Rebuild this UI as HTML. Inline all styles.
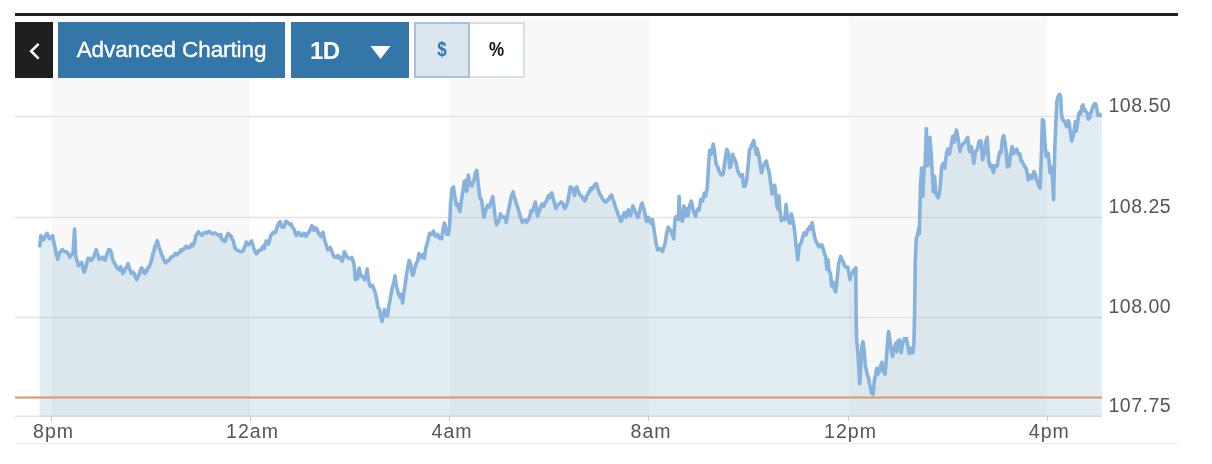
<!DOCTYPE html>
<html><head><meta charset="utf-8"><title>Chart</title>
<style>
html,body{margin:0;padding:0;background:#fff;}
body{width:1212px;height:464px;position:relative;overflow:hidden;font-family:"Liberation Sans",sans-serif;}
#chart{position:absolute;left:0;top:0;}
.topline{position:absolute;left:15px;top:13px;width:1163px;height:3px;background:#1e222b;}
.btn{position:absolute;top:22px;height:55.5px;box-sizing:border-box;}
.gap{position:absolute;top:22px;height:56px;background:#fff;}
.back{left:15px;width:38px;background:#1f1f1f;}
.adv{left:58px;width:227px;background:#3576a8;color:#fff;font-size:22.5px;line-height:56px;text-align:center;letter-spacing:-0.1px;-webkit-text-stroke:0.35px #fff;}
.oned{left:291px;width:118px;background:#3576a8;color:#fff;font-size:24px;font-weight:bold;line-height:57px;}
.oned span{position:absolute;left:19px;top:0;letter-spacing:-0.5px}
.dol{left:414px;width:56px;background:#dae5ef;border:2px solid #a9c1db;color:#3576a8;font-weight:bold;font-size:17px;line-height:52.4px;text-align:center;}
.btn b{display:inline-block;transform:scaleY(1.2);}
.pct{left:470px;width:55px;background:#fff;border:2px solid #d5e0ec;border-left:none;color:#111;font-weight:bold;font-size:17px;line-height:52.4px;text-align:center;}
#chart{font-family:"Liberation Sans",sans-serif;font-size:19px;}
#chart text{fill:#555;}
</style></head><body>
<svg id="chart" width="1212" height="464" viewBox="0 0 1212 464">
<rect x="52" y="17" width="198" height="399" fill="#f8f8f8"/>
<rect x="450" y="17" width="199" height="399" fill="#f8f8f8"/>
<rect x="849" y="17" width="198" height="399" fill="#f8f8f8"/>
<g stroke="#e3e3e3" stroke-width="1.5">
<line x1="15" x2="1102" y1="116.4" y2="116.4"/>
<line x1="15" x2="1102" y1="217.5" y2="217.5"/>
<line x1="15" x2="1102" y1="317.4" y2="317.4"/>
</g>
<line x1="15" x2="1102" y1="416.2" y2="416.2" stroke="#d6d6d6" stroke-width="1"/>
<line x1="15" x2="1178" y1="443.5" y2="443.5" stroke="#eeeeee" stroke-width="1"/>
<g stroke="#c8c8c8" stroke-width="1">
<line x1="51.5" x2="51.5" y1="416" y2="421"/>
<line x1="250.5" x2="250.5" y1="416" y2="421"/>
<line x1="449.5" x2="449.5" y1="416" y2="421"/>
<line x1="648.5" x2="648.5" y1="416" y2="421"/>
<line x1="848.5" x2="848.5" y1="416" y2="421"/>
<line x1="1047.5" x2="1047.5" y1="416" y2="421"/>
</g>
<path d="M39.7 247.4 L40.8 235.6 L41.7 236.8 L42.5 238.9 L43.4 239.9 L44.4 238.1 L45.3 236.4 L46.2 234.3 L47.2 233.4 L48.3 235.9 L49.4 238.8 L50.5 238.6 L51.5 237.0 L52.6 235.6 L53.7 241.7 L54.8 246.3 L55.7 250.8 L56.7 255.3 L57.6 259.3 L58.5 256.9 L59.3 253.0 L60.2 251.7 L61.2 251.3 L62.3 249.6 L63.4 250.7 L64.5 251.4 L65.6 251.7 L66.7 251.8 L67.8 253.1 L68.8 255.1 L69.9 257.1 L71.0 255.3 L72.0 254.5 L73.1 252.8 L73.8 240.9 L74.6 229.1 L75.7 256.0 L76.6 259.6 L77.6 262.0 L78.5 265.7 L79.6 264.9 L80.6 263.9 L81.7 262.5 L82.6 265.2 L83.4 270.3 L84.3 272.2 L85.3 269.1 L86.2 266.1 L87.2 261.2 L88.2 258.2 L89.3 258.3 L90.3 259.3 L91.4 260.3 L92.5 258.6 L93.6 257.1 L94.5 255.1 L95.3 252.3 L96.2 249.6 L97.1 252.5 L98.1 255.3 L99.0 259.3 L100.1 258.2 L101.1 258.7 L102.2 257.1 L103.1 257.6 L104.1 259.4 L105.0 260.3 L105.9 257.9 L106.8 253.8 L107.8 252.3 L108.7 249.6 L109.5 250.8 L110.2 250.0 L111.1 251.9 L112.1 256.6 L113.0 260.3 L114.1 262.4 L115.1 264.0 L116.2 266.8 L117.3 268.2 L118.3 268.9 L119.4 270.0 L120.5 266.8 L121.6 269.0 L122.7 273.3 L123.8 272.1 L124.8 270.2 L125.9 267.9 L127.0 266.5 L128.1 263.6 L129.2 267.9 L130.2 270.3 L131.3 273.3 L132.4 272.8 L133.4 272.2 L134.5 273.7 L135.6 277.7 L136.7 279.7 L137.8 277.1 L138.8 275.4 L139.7 272.6 L140.7 269.5 L141.6 267.9 L142.5 269.0 L143.3 271.1 L144.2 273.3 L145.1 273.5 L145.9 270.3 L146.8 271.1 L147.8 267.9 L148.8 267.0 L149.7 265.7 L150.7 262.5 L151.8 259.3 L152.8 253.9 L153.9 251.7 L155.0 246.1 L156.1 244.5 L157.2 240.5 L158.2 243.9 L159.3 248.5 L160.4 250.2 L161.4 254.2 L162.5 256.0 L163.4 259.1 L164.4 260.7 L165.3 262.9 L166.2 262.2 L167.0 261.5 L167.9 260.3 L169.0 260.4 L170.1 258.6 L171.2 257.1 L172.3 256.8 L173.3 256.1 L174.4 255.0 L175.5 253.3 L176.6 254.9 L177.6 254.1 L178.7 252.8 L179.8 252.5 L180.8 249.9 L181.9 250.6 L183.0 249.1 L184.1 249.1 L185.2 247.4 L186.3 246.2 L187.3 247.5 L188.4 247.8 L189.5 247.5 L190.6 245.7 L191.7 244.2 L192.7 245.9 L193.8 244.2 L194.9 240.3 L195.9 235.6 L196.8 234.3 L197.6 233.4 L198.5 231.9 L199.4 233.4 L200.4 234.0 L201.3 234.9 L202.4 235.1 L203.5 233.0 L204.6 232.8 L205.7 232.3 L206.8 233.2 L207.8 232.3 L208.9 231.4 L210.0 231.9 L211.1 233.1 L212.1 234.0 L213.2 233.4 L214.3 233.3 L215.3 232.9 L216.4 234.1 L217.5 234.5 L218.6 235.1 L219.6 235.7 L220.7 236.6 L220.7 234.5 L221.4 238.3 L222.2 239.9 L223.3 239.5 L224.3 241.5 L225.4 240.9 L226.3 237.4 L227.3 235.3 L228.2 233.4 L229.1 234.6 L229.9 235.7 L230.8 235.6 L231.7 238.0 L232.5 239.4 L233.4 240.9 L234.2 244.8 L235.1 248.5 L236.2 249.3 L237.2 250.3 L238.3 250.6 L239.4 251.0 L240.5 251.7 L241.4 251.5 L242.4 251.4 L243.3 250.6 L244.3 247.7 L245.3 245.4 L246.3 242.0 L247.2 243.2 L248.2 245.0 L249.1 244.2 L250.0 243.3 L250.8 241.7 L251.7 240.9 L252.9 245.0 L254.1 249.6 L255.1 251.7 L256.2 253.9 L257.1 253.5 L257.9 251.4 L258.8 250.6 L259.9 250.0 L260.9 250.1 L262.0 247.8 L263.1 246.2 L264.2 248.5 L265.2 243.9 L266.3 240.9 L267.4 242.7 L268.5 244.2 L269.6 240.2 L270.6 235.6 L271.5 234.7 L272.5 233.1 L273.4 232.3 L274.5 232.8 L275.6 232.3 L276.7 228.8 L277.8 224.8 L279.1 222.8 L280.3 221.6 L281.1 226.1 L281.9 226.9 L283.0 227.2 L284.2 226.9 L285.0 223.6 L285.9 221.1 L286.9 221.9 L288.0 222.7 L289.0 223.7 L290.1 224.7 L291.1 223.8 L292.2 226.9 L293.3 228.2 L294.4 230.2 L295.4 233.7 L296.5 235.6 L297.6 233.1 L298.7 232.3 L299.6 233.3 L300.6 235.2 L301.5 235.6 L302.6 235.1 L303.6 233.4 L304.5 235.5 L305.3 234.0 L306.2 236.2 L307.1 234.6 L307.9 233.3 L308.8 232.3 L309.7 230.6 L310.7 228.9 L311.6 225.9 L312.7 226.0 L313.8 230.2 L314.9 229.9 L315.9 228.0 L317.0 229.1 L318.1 232.3 L319.0 234.2 L320.0 234.0 L320.9 236.6 L321.9 234.6 L323.0 232.3 L324.1 238.0 L325.2 242.0 L326.1 244.6 L326.9 247.5 L327.8 250.0 L329.1 249.3 L330.3 247.4 L331.2 250.0 L332.2 252.4 L333.1 255.0 L334.2 257.2 L335.3 257.1 L336.2 257.4 L337.2 255.9 L338.1 255.6 L339.2 258.4 L340.3 257.1 L341.2 258.4 L342.2 261.4 L343.3 257.2 L344.4 251.7 L345.5 253.9 L346.7 256.5 L347.6 257.2 L348.4 258.2 L349.3 258.2 L350.0 258.4 L350.9 258.1 L351.9 257.5 L352.9 260.9 L353.9 263.3 L354.6 270.4 L355.4 279.8 L356.4 278.2 L357.4 278.8 L358.2 273.9 L359.1 268.1 L359.9 271.3 L360.7 275.9 L361.6 275.6 L362.6 276.9 L363.6 277.2 L364.6 279.8 L365.9 275.4 L367.1 269.1 L368.0 276.0 L368.8 281.7 L369.8 285.3 L370.8 286.6 L371.8 285.4 L372.7 285.6 L373.8 288.5 L374.8 291.4 L375.8 294.9 L376.8 300.2 L378.1 307.9 L379.5 308.9 L380.7 316.7 L382.0 321.5 L383.4 314.7 L384.5 309.5 L385.9 314.7 L387.3 316.1 L388.1 311.6 L388.8 306.0 L389.8 301.8 L390.8 295.3 L392.0 289.3 L393.1 284.6 L394.1 281.4 L395.0 275.9 L395.8 282.0 L396.6 286.6 L397.6 290.3 L398.5 294.3 L399.3 294.3 L400.1 297.2 L401.4 294.3 L402.6 303.1 L403.9 292.4 L405.1 285.2 L406.3 275.9 L407.3 270.7 L408.2 265.1 L409.2 260.4 L409.9 262.6 L410.7 264.3 L411.7 270.1 L412.7 275.3 L413.9 272.4 L415.0 267.2 L416.2 263.5 L417.5 261.3 L418.9 253.6 L419.9 256.4 L420.8 257.5 L421.8 257.2 L422.8 254.6 L423.6 257.6 L424.3 258.4 L425.7 248.7 L426.6 245.2 L427.6 241.9 L428.6 237.0 L429.7 233.3 L430.8 234.6 L431.9 234.4 L432.6 232.8 L433.4 231.1 L434.4 233.9 L435.5 236.5 L436.6 236.5 L437.7 234.4 L438.8 236.4 L439.8 238.7 L440.7 237.0 L441.6 238.7 L442.4 233.6 L443.1 229.0 L444.4 223.1 L445.4 226.8 L446.3 233.3 L447.4 234.5 L448.4 234.4 L449.7 224.7 L450.6 203.1 L451.9 189.1 L452.6 188.2 L453.4 186.9 L454.1 191.3 L454.9 196.6 L456.2 205.3 L456.9 204.7 L457.7 204.2 L458.8 208.6 L459.9 211.7 L460.9 204.2 L462.0 196.6 L463.1 190.1 L464.2 181.6 L464.9 181.0 L465.7 180.5 L466.8 191.2 L467.6 183.9 L468.3 175.1 L469.1 180.0 L470.0 182.6 L470.9 185.5 L471.7 185.9 L472.8 182.7 L473.9 180.5 L474.6 177.4 L475.4 172.9 L476.7 170.3 L477.4 175.6 L478.2 183.7 L479.0 189.9 L479.9 197.7 L480.9 198.4 L481.9 202.0 L482.9 210.4 L484.0 217.1 L484.9 212.9 L485.7 210.6 L486.6 207.9 L487.5 205.3 L488.2 206.2 L489.0 207.4 L489.9 205.2 L490.7 203.1 L491.8 199.4 L492.8 196.6 L493.6 203.8 L494.4 210.6 L495.4 219.0 L496.5 224.7 L497.6 223.1 L498.7 221.4 L499.5 218.0 L500.4 213.9 L501.4 216.3 L502.3 217.1 L503.4 217.0 L504.5 217.1 L505.4 218.9 L506.2 222.5 L507.3 216.1 L508.4 210.6 L509.4 206.1 L510.5 199.9 L511.4 196.0 L512.2 194.1 L513.1 191.9 L514.2 196.7 L515.3 199.9 L516.3 203.7 L517.4 206.3 L518.5 210.1 L519.6 213.9 L520.5 217.4 L521.5 219.8 L522.4 222.5 L523.5 220.5 L524.5 220.3 L525.6 220.0 L526.7 222.1 L527.8 220.2 L528.8 219.3 L529.9 215.6 L531.0 210.6 L531.9 210.7 L532.7 211.7 L533.6 207.8 L534.4 204.7 L535.3 202.0 L536.4 207.9 L537.5 216.0 L538.5 213.2 L539.6 210.6 L540.7 206.5 L541.8 204.2 L542.8 205.5 L543.9 206.3 L545.0 202.4 L546.1 202.0 L547.0 200.1 L547.8 197.3 L548.7 195.6 L550.0 197.7 L551.0 193.8 L551.9 192.8 L552.8 196.9 L553.6 199.9 L554.7 204.0 L555.8 208.5 L556.9 205.4 L557.9 205.0 L559.0 204.2 L560.1 203.3 L561.2 202.0 L562.2 202.8 L563.3 204.2 L564.0 206.9 L564.8 208.5 L565.7 206.9 L566.7 204.7 L567.6 202.0 L568.5 197.2 L569.3 192.9 L570.2 186.9 L571.3 187.9 L572.4 188.0 L573.5 192.1 L574.5 195.6 L575.6 189.7 L576.7 186.9 L577.8 190.3 L578.8 192.3 L579.9 194.9 L581.0 195.6 L581.9 196.8 L582.9 198.1 L583.8 199.9 L584.8 200.8 L585.9 198.8 L586.8 195.3 L587.6 194.8 L588.5 192.3 L589.6 192.0 L590.7 188.0 L591.5 187.9 L592.4 189.1 L593.5 187.5 L594.6 184.8 L595.5 185.7 L596.3 183.7 L597.3 186.9 L598.4 190.2 L599.3 192.6 L600.1 194.8 L601.0 195.4 L601.9 198.1 L602.9 199.0 L603.8 200.3 L604.8 201.6 L605.8 202.0 L606.8 201.0 L607.7 199.9 L608.7 199.1 L609.7 196.9 L610.6 196.0 L611.6 194.8 L612.8 199.1 L614.0 202.0 L615.2 206.0 L616.5 209.8 L617.5 212.1 L618.4 215.6 L619.6 217.9 L620.8 221.4 L621.8 220.5 L622.7 215.6 L623.5 215.0 L624.2 212.7 L625.2 215.6 L626.2 217.5 L627.4 211.7 L628.5 209.8 L629.5 213.2 L630.4 215.6 L631.3 212.7 L632.1 210.4 L633.0 205.9 L634.1 209.1 L635.3 211.7 L636.5 214.5 L637.8 217.5 L638.8 214.5 L639.8 210.7 L641.0 205.4 L642.1 203.0 L643.2 207.2 L644.2 209.8 L645.4 215.8 L646.5 221.4 L647.5 218.9 L648.5 217.5 L649.6 221.4 L650.8 223.3 L651.6 222.8 L652.4 219.5 L653.3 224.7 L654.3 232.1 L655.2 237.4 L656.2 243.7 L657.6 249.9 L658.9 249.4 L660.1 248.5 L661.3 250.1 L662.5 251.5 L663.8 247.3 L665.0 243.7 L666.0 237.2 L666.9 232.1 L668.3 227.2 L669.5 230.2 L670.8 230.1 L671.8 233.8 L672.7 235.1 L673.7 238.9 L675.1 218.5 L676.4 216.5 L677.6 216.5 L678.5 219.5 L679.1 196.2 L680.1 215.6 L681.2 219.8 L682.4 221.4 L683.2 214.4 L684.0 205.9 L685.3 216.5 L686.7 208.8 L687.5 213.6 L688.2 215.6 L689.6 204.9 L690.4 203.6 L691.2 201.0 L692.2 204.7 L693.1 209.8 L694.4 213.3 L695.6 216.5 L696.8 211.0 L697.9 208.8 L699.3 209.8 L700.1 203.9 L700.9 199.1 L701.8 200.0 L702.8 201.0 L704.2 193.3 L705.0 195.1 L705.7 196.2 L706.5 191.3 L707.3 187.5 L708.7 163.0 L709.7 150.4 L710.5 152.2 L711.2 154.2 L712.2 149.4 L713.2 144.0 L714.5 151.3 L715.3 157.9 L716.1 163.9 L717.0 165.9 L717.8 166.9 L718.6 169.5 L719.4 171.7 L720.3 173.1 L721.3 175.0 L722.3 174.9 L723.3 173.6 L724.0 167.8 L724.8 162.0 L725.8 155.1 L726.8 149.4 L727.6 150.9 L728.5 153.3 L729.7 167.8 L731.0 165.9 L731.8 160.0 L732.6 154.2 L733.5 156.6 L734.5 159.1 L735.9 162.0 L736.8 166.5 L737.8 170.7 L738.8 173.1 L739.8 175.6 L741.1 176.5 L742.3 174.6 L743.6 186.2 L745.0 186.2 L745.8 183.4 L746.5 180.4 L747.9 168.8 L748.7 159.0 L749.5 149.4 L750.8 148.4 L751.6 145.1 L752.4 143.6 L753.7 140.7 L754.5 144.4 L755.3 147.5 L756.2 154.2 L757.2 148.4 L758.0 152.6 L758.8 155.2 L760.1 163.9 L761.5 172.7 L762.2 170.1 L763.0 166.9 L764.0 164.8 L765.0 163.0 L766.3 161.0 L767.1 164.7 L767.9 167.8 L768.6 170.0 L769.4 173.6 L770.8 184.3 L772.1 194.0 L773.3 192.1 L774.7 185.3 L776.0 195.9 L776.6 204.2 L777.8 209.0 L779.0 195.9 L780.0 211.3 L781.4 220.8 L782.2 218.2 L783.0 218.4 L783.9 219.0 L784.7 219.6 L786.1 204.2 L787.3 216.1 L788.1 218.4 L789.0 222.0 L790.1 223.2 L791.3 213.7 L792.1 217.8 L793.0 220.8 L794.4 229.1 L795.2 236.6 L796.1 245.7 L796.9 250.8 L797.7 259.9 L799.1 246.9 L800.0 244.3 L800.8 243.3 L801.6 241.5 L802.5 237.4 L803.5 234.8 L804.4 232.7 L805.2 232.8 L806.0 235.0 L807.0 231.5 L807.9 229.1 L808.8 228.3 L809.6 226.7 L810.8 229.1 L812.2 222.7 L813.0 228.1 L813.8 232.7 L814.6 236.4 L815.5 239.8 L816.5 242.7 L817.4 243.3 L818.2 245.6 L819.1 246.9 L820.5 245.0 L821.3 245.0 L822.1 245.0 L823.0 248.7 L824.0 251.6 L824.9 255.2 L825.7 256.4 L826.9 269.4 L828.1 259.9 L829.2 271.8 L830.4 272.9 L831.6 286.0 L832.5 284.9 L833.3 282.4 L834.5 289.5 L835.6 291.9 L836.4 286.7 L837.1 280.0 L837.9 270.9 L838.7 263.5 L839.7 259.8 L840.6 256.4 L841.5 258.7 L842.3 259.9 L843.2 262.0 L844.2 264.6 L845.0 266.6 L845.8 267.0 L846.6 267.4 L847.5 267.0 L848.7 271.8 L849.9 279.6 L851.3 274.1 L852.1 273.6 L852.9 271.8 L853.8 270.4 L854.6 269.4 L855.8 267.7 L856.1 313.7 L856.6 339.8 L857.8 351.6 L859.0 370.6 L859.7 383.6 L860.9 363.5 L861.8 346.9 L863.0 341.7 L864.2 351.6 L865.4 365.8 L866.8 371.8 L867.6 376.1 L868.4 376.5 L869.2 382.2 L870.1 386.0 L871.5 393.1 L872.4 393.5 L873.2 394.3 L874.4 380.0 L875.5 375.3 L876.7 368.2 L877.9 374.1 L879.1 371.8 L880.3 367.0 L881.1 364.7 L881.9 362.3 L882.6 369.0 L883.4 371.8 L884.2 372.7 L885.0 374.1 L886.2 361.1 L887.4 344.5 L888.6 331.5 L889.8 339.8 L890.9 348.1 L891.8 352.9 L892.6 356.4 L894.0 348.1 L894.9 346.4 L895.7 343.3 L896.9 351.6 L898.1 340.9 L898.9 340.4 L899.7 339.8 L901.1 352.8 L902.0 347.2 L902.8 343.3 L903.6 341.1 L904.5 338.6 L905.5 338.9 L906.4 338.6 L907.5 343.3 L908.4 349.2 L909.2 353.5 L910.2 351.4 L911.1 348.1 L911.9 350.5 L912.7 352.8 L913.9 344.5 L914.6 313.7 L915.3 261.1 L916.2 238.6 L917.6 235.0 L918.8 227.9 L919.3 233.8 L920.4 188.2 L921.6 168.1 L922.8 196.5 L924.0 169.2 L925.1 165.7 L926.3 128.5 L927.5 165.7 L928.7 163.3 L929.9 137.3 L931.1 152.7 L932.3 174.0 L933.4 191.8 L934.6 176.4 L935.8 192.9 L937.0 195.9 L938.2 197.7 L939.0 194.6 L939.8 190.6 L940.8 178.9 L941.7 166.9 L942.5 165.1 L943.4 163.3 L944.8 168.1 L945.6 160.8 L946.5 153.8 L947.7 149.1 L948.6 152.0 L949.5 153.8 L950.4 148.9 L951.2 145.5 L952.0 140.3 L952.9 136.1 L954.3 142.0 L955.3 136.1 L956.4 130.1 L957.3 133.8 L958.3 139.6 L959.1 145.2 L960.0 151.5 L961.0 147.0 L961.9 145.5 L963.0 143.8 L964.2 143.2 L965.2 141.8 L966.1 139.6 L967.0 138.9 L967.8 137.3 L968.6 144.4 L969.5 151.5 L970.5 148.9 L971.4 146.7 L972.5 153.9 L973.7 163.3 L974.5 158.8 L975.4 151.5 L976.3 150.7 L977.3 149.1 L978.1 146.4 L978.9 142.0 L979.8 140.7 L980.8 140.8 L981.8 150.2 L982.7 159.8 L983.5 155.4 L984.4 153.8 L985.6 142.0 L986.4 140.2 L987.2 137.3 L988.6 159.8 L989.5 164.1 L990.3 166.9 L991.1 164.9 L992.0 165.7 L993.4 172.8 L994.2 169.2 L995.0 165.7 L996.2 166.2 L997.4 165.7 L998.3 158.4 L999.3 153.8 L1000.1 151.9 L1001.0 152.7 L1001.8 144.8 L1002.6 138.4 L1003.8 135.6 L1004.8 141.3 L1005.7 147.9 L1006.5 156.3 L1007.4 166.9 L1008.3 166.3 L1009.3 165.7 L1010.5 153.8 L1011.3 150.4 L1012.1 146.7 L1013.5 153.8 L1014.4 152.5 L1015.2 150.3 L1016.0 150.2 L1016.8 149.1 L1017.5 152.6 L1018.3 153.8 L1019.1 154.7 L1019.9 153.8 L1021.1 160.9 L1022.0 161.1 L1022.8 163.3 L1023.8 164.7 L1024.7 166.9 L1025.5 167.3 L1026.3 169.2 L1027.2 173.7 L1028.2 179.9 L1029.1 177.5 L1029.9 175.2 L1030.8 177.0 L1031.8 178.7 L1032.9 175.5 L1034.1 171.6 L1035.3 174.6 L1036.5 179.9 L1037.5 181.3 L1038.4 184.6 L1039.2 186.4 L1040.1 188.2 L1041.3 157.4 L1042.4 119.5 L1043.6 120.7 L1044.8 140.8 L1046.0 156.2 L1047.2 152.7 L1048.4 153.8 L1049.2 163.2 L1050.0 172.8 L1051.4 166.9 L1052.4 176.4 L1053.6 199.6 L1054.8 147.9 L1055.8 124.3 L1056.9 101.1 L1058.1 96.6 L1058.8 95.4 L1059.6 94.3 L1060.7 96.6 L1061.4 113.2 L1062.6 120.0 L1063.3 119.8 L1064.1 120.7 L1065.3 123.0 L1066.0 125.4 L1066.8 126.8 L1067.6 124.0 L1068.4 120.7 L1069.4 123.7 L1070.2 131.3 L1071.0 136.1 L1071.7 141.1 L1072.5 137.9 L1073.2 135.8 L1074.4 128.3 L1075.4 121.5 L1076.2 131.3 L1077.4 125.2 L1078.5 115.4 L1079.5 112.4 L1080.7 113.9 L1081.9 106.4 L1083.0 104.9 L1083.7 110.2 L1084.9 109.4 L1086.0 111.7 L1087.1 113.2 L1088.3 119.2 L1089.0 118.3 L1089.8 117.7 L1090.5 113.0 L1091.3 112.4 L1092.0 109.0 L1092.8 107.1 L1093.5 105.6 L1094.3 104.1 L1095.5 103.8 L1096.6 107.1 L1097.6 114.7 L1098.8 115.4 L1099.8 114.3 L1100.8 115.5 L1101.8 115.4 L1101.8 416.5 L39.7 416.5 Z" fill="rgba(58,127,175,0.15)" stroke="none"/>
<line x1="15" x2="1102" y1="397.4" y2="397.4" stroke="#da9566" stroke-width="2"/>
<path d="M39.7 247.4 L40.8 235.6 L41.7 236.8 L42.5 238.9 L43.4 239.9 L44.4 238.1 L45.3 236.4 L46.2 234.3 L47.2 233.4 L48.3 235.9 L49.4 238.8 L50.5 238.6 L51.5 237.0 L52.6 235.6 L53.7 241.7 L54.8 246.3 L55.7 250.8 L56.7 255.3 L57.6 259.3 L58.5 256.9 L59.3 253.0 L60.2 251.7 L61.2 251.3 L62.3 249.6 L63.4 250.7 L64.5 251.4 L65.6 251.7 L66.7 251.8 L67.8 253.1 L68.8 255.1 L69.9 257.1 L71.0 255.3 L72.0 254.5 L73.1 252.8 L73.8 240.9 L74.6 229.1 L75.7 256.0 L76.6 259.6 L77.6 262.0 L78.5 265.7 L79.6 264.9 L80.6 263.9 L81.7 262.5 L82.6 265.2 L83.4 270.3 L84.3 272.2 L85.3 269.1 L86.2 266.1 L87.2 261.2 L88.2 258.2 L89.3 258.3 L90.3 259.3 L91.4 260.3 L92.5 258.6 L93.6 257.1 L94.5 255.1 L95.3 252.3 L96.2 249.6 L97.1 252.5 L98.1 255.3 L99.0 259.3 L100.1 258.2 L101.1 258.7 L102.2 257.1 L103.1 257.6 L104.1 259.4 L105.0 260.3 L105.9 257.9 L106.8 253.8 L107.8 252.3 L108.7 249.6 L109.5 250.8 L110.2 250.0 L111.1 251.9 L112.1 256.6 L113.0 260.3 L114.1 262.4 L115.1 264.0 L116.2 266.8 L117.3 268.2 L118.3 268.9 L119.4 270.0 L120.5 266.8 L121.6 269.0 L122.7 273.3 L123.8 272.1 L124.8 270.2 L125.9 267.9 L127.0 266.5 L128.1 263.6 L129.2 267.9 L130.2 270.3 L131.3 273.3 L132.4 272.8 L133.4 272.2 L134.5 273.7 L135.6 277.7 L136.7 279.7 L137.8 277.1 L138.8 275.4 L139.7 272.6 L140.7 269.5 L141.6 267.9 L142.5 269.0 L143.3 271.1 L144.2 273.3 L145.1 273.5 L145.9 270.3 L146.8 271.1 L147.8 267.9 L148.8 267.0 L149.7 265.7 L150.7 262.5 L151.8 259.3 L152.8 253.9 L153.9 251.7 L155.0 246.1 L156.1 244.5 L157.2 240.5 L158.2 243.9 L159.3 248.5 L160.4 250.2 L161.4 254.2 L162.5 256.0 L163.4 259.1 L164.4 260.7 L165.3 262.9 L166.2 262.2 L167.0 261.5 L167.9 260.3 L169.0 260.4 L170.1 258.6 L171.2 257.1 L172.3 256.8 L173.3 256.1 L174.4 255.0 L175.5 253.3 L176.6 254.9 L177.6 254.1 L178.7 252.8 L179.8 252.5 L180.8 249.9 L181.9 250.6 L183.0 249.1 L184.1 249.1 L185.2 247.4 L186.3 246.2 L187.3 247.5 L188.4 247.8 L189.5 247.5 L190.6 245.7 L191.7 244.2 L192.7 245.9 L193.8 244.2 L194.9 240.3 L195.9 235.6 L196.8 234.3 L197.6 233.4 L198.5 231.9 L199.4 233.4 L200.4 234.0 L201.3 234.9 L202.4 235.1 L203.5 233.0 L204.6 232.8 L205.7 232.3 L206.8 233.2 L207.8 232.3 L208.9 231.4 L210.0 231.9 L211.1 233.1 L212.1 234.0 L213.2 233.4 L214.3 233.3 L215.3 232.9 L216.4 234.1 L217.5 234.5 L218.6 235.1 L219.6 235.7 L220.7 236.6 L220.7 234.5 L221.4 238.3 L222.2 239.9 L223.3 239.5 L224.3 241.5 L225.4 240.9 L226.3 237.4 L227.3 235.3 L228.2 233.4 L229.1 234.6 L229.9 235.7 L230.8 235.6 L231.7 238.0 L232.5 239.4 L233.4 240.9 L234.2 244.8 L235.1 248.5 L236.2 249.3 L237.2 250.3 L238.3 250.6 L239.4 251.0 L240.5 251.7 L241.4 251.5 L242.4 251.4 L243.3 250.6 L244.3 247.7 L245.3 245.4 L246.3 242.0 L247.2 243.2 L248.2 245.0 L249.1 244.2 L250.0 243.3 L250.8 241.7 L251.7 240.9 L252.9 245.0 L254.1 249.6 L255.1 251.7 L256.2 253.9 L257.1 253.5 L257.9 251.4 L258.8 250.6 L259.9 250.0 L260.9 250.1 L262.0 247.8 L263.1 246.2 L264.2 248.5 L265.2 243.9 L266.3 240.9 L267.4 242.7 L268.5 244.2 L269.6 240.2 L270.6 235.6 L271.5 234.7 L272.5 233.1 L273.4 232.3 L274.5 232.8 L275.6 232.3 L276.7 228.8 L277.8 224.8 L279.1 222.8 L280.3 221.6 L281.1 226.1 L281.9 226.9 L283.0 227.2 L284.2 226.9 L285.0 223.6 L285.9 221.1 L286.9 221.9 L288.0 222.7 L289.0 223.7 L290.1 224.7 L291.1 223.8 L292.2 226.9 L293.3 228.2 L294.4 230.2 L295.4 233.7 L296.5 235.6 L297.6 233.1 L298.7 232.3 L299.6 233.3 L300.6 235.2 L301.5 235.6 L302.6 235.1 L303.6 233.4 L304.5 235.5 L305.3 234.0 L306.2 236.2 L307.1 234.6 L307.9 233.3 L308.8 232.3 L309.7 230.6 L310.7 228.9 L311.6 225.9 L312.7 226.0 L313.8 230.2 L314.9 229.9 L315.9 228.0 L317.0 229.1 L318.1 232.3 L319.0 234.2 L320.0 234.0 L320.9 236.6 L321.9 234.6 L323.0 232.3 L324.1 238.0 L325.2 242.0 L326.1 244.6 L326.9 247.5 L327.8 250.0 L329.1 249.3 L330.3 247.4 L331.2 250.0 L332.2 252.4 L333.1 255.0 L334.2 257.2 L335.3 257.1 L336.2 257.4 L337.2 255.9 L338.1 255.6 L339.2 258.4 L340.3 257.1 L341.2 258.4 L342.2 261.4 L343.3 257.2 L344.4 251.7 L345.5 253.9 L346.7 256.5 L347.6 257.2 L348.4 258.2 L349.3 258.2 L350.0 258.4 L350.9 258.1 L351.9 257.5 L352.9 260.9 L353.9 263.3 L354.6 270.4 L355.4 279.8 L356.4 278.2 L357.4 278.8 L358.2 273.9 L359.1 268.1 L359.9 271.3 L360.7 275.9 L361.6 275.6 L362.6 276.9 L363.6 277.2 L364.6 279.8 L365.9 275.4 L367.1 269.1 L368.0 276.0 L368.8 281.7 L369.8 285.3 L370.8 286.6 L371.8 285.4 L372.7 285.6 L373.8 288.5 L374.8 291.4 L375.8 294.9 L376.8 300.2 L378.1 307.9 L379.5 308.9 L380.7 316.7 L382.0 321.5 L383.4 314.7 L384.5 309.5 L385.9 314.7 L387.3 316.1 L388.1 311.6 L388.8 306.0 L389.8 301.8 L390.8 295.3 L392.0 289.3 L393.1 284.6 L394.1 281.4 L395.0 275.9 L395.8 282.0 L396.6 286.6 L397.6 290.3 L398.5 294.3 L399.3 294.3 L400.1 297.2 L401.4 294.3 L402.6 303.1 L403.9 292.4 L405.1 285.2 L406.3 275.9 L407.3 270.7 L408.2 265.1 L409.2 260.4 L409.9 262.6 L410.7 264.3 L411.7 270.1 L412.7 275.3 L413.9 272.4 L415.0 267.2 L416.2 263.5 L417.5 261.3 L418.9 253.6 L419.9 256.4 L420.8 257.5 L421.8 257.2 L422.8 254.6 L423.6 257.6 L424.3 258.4 L425.7 248.7 L426.6 245.2 L427.6 241.9 L428.6 237.0 L429.7 233.3 L430.8 234.6 L431.9 234.4 L432.6 232.8 L433.4 231.1 L434.4 233.9 L435.5 236.5 L436.6 236.5 L437.7 234.4 L438.8 236.4 L439.8 238.7 L440.7 237.0 L441.6 238.7 L442.4 233.6 L443.1 229.0 L444.4 223.1 L445.4 226.8 L446.3 233.3 L447.4 234.5 L448.4 234.4 L449.7 224.7 L450.6 203.1 L451.9 189.1 L452.6 188.2 L453.4 186.9 L454.1 191.3 L454.9 196.6 L456.2 205.3 L456.9 204.7 L457.7 204.2 L458.8 208.6 L459.9 211.7 L460.9 204.2 L462.0 196.6 L463.1 190.1 L464.2 181.6 L464.9 181.0 L465.7 180.5 L466.8 191.2 L467.6 183.9 L468.3 175.1 L469.1 180.0 L470.0 182.6 L470.9 185.5 L471.7 185.9 L472.8 182.7 L473.9 180.5 L474.6 177.4 L475.4 172.9 L476.7 170.3 L477.4 175.6 L478.2 183.7 L479.0 189.9 L479.9 197.7 L480.9 198.4 L481.9 202.0 L482.9 210.4 L484.0 217.1 L484.9 212.9 L485.7 210.6 L486.6 207.9 L487.5 205.3 L488.2 206.2 L489.0 207.4 L489.9 205.2 L490.7 203.1 L491.8 199.4 L492.8 196.6 L493.6 203.8 L494.4 210.6 L495.4 219.0 L496.5 224.7 L497.6 223.1 L498.7 221.4 L499.5 218.0 L500.4 213.9 L501.4 216.3 L502.3 217.1 L503.4 217.0 L504.5 217.1 L505.4 218.9 L506.2 222.5 L507.3 216.1 L508.4 210.6 L509.4 206.1 L510.5 199.9 L511.4 196.0 L512.2 194.1 L513.1 191.9 L514.2 196.7 L515.3 199.9 L516.3 203.7 L517.4 206.3 L518.5 210.1 L519.6 213.9 L520.5 217.4 L521.5 219.8 L522.4 222.5 L523.5 220.5 L524.5 220.3 L525.6 220.0 L526.7 222.1 L527.8 220.2 L528.8 219.3 L529.9 215.6 L531.0 210.6 L531.9 210.7 L532.7 211.7 L533.6 207.8 L534.4 204.7 L535.3 202.0 L536.4 207.9 L537.5 216.0 L538.5 213.2 L539.6 210.6 L540.7 206.5 L541.8 204.2 L542.8 205.5 L543.9 206.3 L545.0 202.4 L546.1 202.0 L547.0 200.1 L547.8 197.3 L548.7 195.6 L550.0 197.7 L551.0 193.8 L551.9 192.8 L552.8 196.9 L553.6 199.9 L554.7 204.0 L555.8 208.5 L556.9 205.4 L557.9 205.0 L559.0 204.2 L560.1 203.3 L561.2 202.0 L562.2 202.8 L563.3 204.2 L564.0 206.9 L564.8 208.5 L565.7 206.9 L566.7 204.7 L567.6 202.0 L568.5 197.2 L569.3 192.9 L570.2 186.9 L571.3 187.9 L572.4 188.0 L573.5 192.1 L574.5 195.6 L575.6 189.7 L576.7 186.9 L577.8 190.3 L578.8 192.3 L579.9 194.9 L581.0 195.6 L581.9 196.8 L582.9 198.1 L583.8 199.9 L584.8 200.8 L585.9 198.8 L586.8 195.3 L587.6 194.8 L588.5 192.3 L589.6 192.0 L590.7 188.0 L591.5 187.9 L592.4 189.1 L593.5 187.5 L594.6 184.8 L595.5 185.7 L596.3 183.7 L597.3 186.9 L598.4 190.2 L599.3 192.6 L600.1 194.8 L601.0 195.4 L601.9 198.1 L602.9 199.0 L603.8 200.3 L604.8 201.6 L605.8 202.0 L606.8 201.0 L607.7 199.9 L608.7 199.1 L609.7 196.9 L610.6 196.0 L611.6 194.8 L612.8 199.1 L614.0 202.0 L615.2 206.0 L616.5 209.8 L617.5 212.1 L618.4 215.6 L619.6 217.9 L620.8 221.4 L621.8 220.5 L622.7 215.6 L623.5 215.0 L624.2 212.7 L625.2 215.6 L626.2 217.5 L627.4 211.7 L628.5 209.8 L629.5 213.2 L630.4 215.6 L631.3 212.7 L632.1 210.4 L633.0 205.9 L634.1 209.1 L635.3 211.7 L636.5 214.5 L637.8 217.5 L638.8 214.5 L639.8 210.7 L641.0 205.4 L642.1 203.0 L643.2 207.2 L644.2 209.8 L645.4 215.8 L646.5 221.4 L647.5 218.9 L648.5 217.5 L649.6 221.4 L650.8 223.3 L651.6 222.8 L652.4 219.5 L653.3 224.7 L654.3 232.1 L655.2 237.4 L656.2 243.7 L657.6 249.9 L658.9 249.4 L660.1 248.5 L661.3 250.1 L662.5 251.5 L663.8 247.3 L665.0 243.7 L666.0 237.2 L666.9 232.1 L668.3 227.2 L669.5 230.2 L670.8 230.1 L671.8 233.8 L672.7 235.1 L673.7 238.9 L675.1 218.5 L676.4 216.5 L677.6 216.5 L678.5 219.5 L679.1 196.2 L680.1 215.6 L681.2 219.8 L682.4 221.4 L683.2 214.4 L684.0 205.9 L685.3 216.5 L686.7 208.8 L687.5 213.6 L688.2 215.6 L689.6 204.9 L690.4 203.6 L691.2 201.0 L692.2 204.7 L693.1 209.8 L694.4 213.3 L695.6 216.5 L696.8 211.0 L697.9 208.8 L699.3 209.8 L700.1 203.9 L700.9 199.1 L701.8 200.0 L702.8 201.0 L704.2 193.3 L705.0 195.1 L705.7 196.2 L706.5 191.3 L707.3 187.5 L708.7 163.0 L709.7 150.4 L710.5 152.2 L711.2 154.2 L712.2 149.4 L713.2 144.0 L714.5 151.3 L715.3 157.9 L716.1 163.9 L717.0 165.9 L717.8 166.9 L718.6 169.5 L719.4 171.7 L720.3 173.1 L721.3 175.0 L722.3 174.9 L723.3 173.6 L724.0 167.8 L724.8 162.0 L725.8 155.1 L726.8 149.4 L727.6 150.9 L728.5 153.3 L729.7 167.8 L731.0 165.9 L731.8 160.0 L732.6 154.2 L733.5 156.6 L734.5 159.1 L735.9 162.0 L736.8 166.5 L737.8 170.7 L738.8 173.1 L739.8 175.6 L741.1 176.5 L742.3 174.6 L743.6 186.2 L745.0 186.2 L745.8 183.4 L746.5 180.4 L747.9 168.8 L748.7 159.0 L749.5 149.4 L750.8 148.4 L751.6 145.1 L752.4 143.6 L753.7 140.7 L754.5 144.4 L755.3 147.5 L756.2 154.2 L757.2 148.4 L758.0 152.6 L758.8 155.2 L760.1 163.9 L761.5 172.7 L762.2 170.1 L763.0 166.9 L764.0 164.8 L765.0 163.0 L766.3 161.0 L767.1 164.7 L767.9 167.8 L768.6 170.0 L769.4 173.6 L770.8 184.3 L772.1 194.0 L773.3 192.1 L774.7 185.3 L776.0 195.9 L776.6 204.2 L777.8 209.0 L779.0 195.9 L780.0 211.3 L781.4 220.8 L782.2 218.2 L783.0 218.4 L783.9 219.0 L784.7 219.6 L786.1 204.2 L787.3 216.1 L788.1 218.4 L789.0 222.0 L790.1 223.2 L791.3 213.7 L792.1 217.8 L793.0 220.8 L794.4 229.1 L795.2 236.6 L796.1 245.7 L796.9 250.8 L797.7 259.9 L799.1 246.9 L800.0 244.3 L800.8 243.3 L801.6 241.5 L802.5 237.4 L803.5 234.8 L804.4 232.7 L805.2 232.8 L806.0 235.0 L807.0 231.5 L807.9 229.1 L808.8 228.3 L809.6 226.7 L810.8 229.1 L812.2 222.7 L813.0 228.1 L813.8 232.7 L814.6 236.4 L815.5 239.8 L816.5 242.7 L817.4 243.3 L818.2 245.6 L819.1 246.9 L820.5 245.0 L821.3 245.0 L822.1 245.0 L823.0 248.7 L824.0 251.6 L824.9 255.2 L825.7 256.4 L826.9 269.4 L828.1 259.9 L829.2 271.8 L830.4 272.9 L831.6 286.0 L832.5 284.9 L833.3 282.4 L834.5 289.5 L835.6 291.9 L836.4 286.7 L837.1 280.0 L837.9 270.9 L838.7 263.5 L839.7 259.8 L840.6 256.4 L841.5 258.7 L842.3 259.9 L843.2 262.0 L844.2 264.6 L845.0 266.6 L845.8 267.0 L846.6 267.4 L847.5 267.0 L848.7 271.8 L849.9 279.6 L851.3 274.1 L852.1 273.6 L852.9 271.8 L853.8 270.4 L854.6 269.4 L855.8 267.7 L856.1 313.7 L856.6 339.8 L857.8 351.6 L859.0 370.6 L859.7 383.6 L860.9 363.5 L861.8 346.9 L863.0 341.7 L864.2 351.6 L865.4 365.8 L866.8 371.8 L867.6 376.1 L868.4 376.5 L869.2 382.2 L870.1 386.0 L871.5 393.1 L872.4 393.5 L873.2 394.3 L874.4 380.0 L875.5 375.3 L876.7 368.2 L877.9 374.1 L879.1 371.8 L880.3 367.0 L881.1 364.7 L881.9 362.3 L882.6 369.0 L883.4 371.8 L884.2 372.7 L885.0 374.1 L886.2 361.1 L887.4 344.5 L888.6 331.5 L889.8 339.8 L890.9 348.1 L891.8 352.9 L892.6 356.4 L894.0 348.1 L894.9 346.4 L895.7 343.3 L896.9 351.6 L898.1 340.9 L898.9 340.4 L899.7 339.8 L901.1 352.8 L902.0 347.2 L902.8 343.3 L903.6 341.1 L904.5 338.6 L905.5 338.9 L906.4 338.6 L907.5 343.3 L908.4 349.2 L909.2 353.5 L910.2 351.4 L911.1 348.1 L911.9 350.5 L912.7 352.8 L913.9 344.5 L914.6 313.7 L915.3 261.1 L916.2 238.6 L917.6 235.0 L918.8 227.9 L919.3 233.8 L920.4 188.2 L921.6 168.1 L922.8 196.5 L924.0 169.2 L925.1 165.7 L926.3 128.5 L927.5 165.7 L928.7 163.3 L929.9 137.3 L931.1 152.7 L932.3 174.0 L933.4 191.8 L934.6 176.4 L935.8 192.9 L937.0 195.9 L938.2 197.7 L939.0 194.6 L939.8 190.6 L940.8 178.9 L941.7 166.9 L942.5 165.1 L943.4 163.3 L944.8 168.1 L945.6 160.8 L946.5 153.8 L947.7 149.1 L948.6 152.0 L949.5 153.8 L950.4 148.9 L951.2 145.5 L952.0 140.3 L952.9 136.1 L954.3 142.0 L955.3 136.1 L956.4 130.1 L957.3 133.8 L958.3 139.6 L959.1 145.2 L960.0 151.5 L961.0 147.0 L961.9 145.5 L963.0 143.8 L964.2 143.2 L965.2 141.8 L966.1 139.6 L967.0 138.9 L967.8 137.3 L968.6 144.4 L969.5 151.5 L970.5 148.9 L971.4 146.7 L972.5 153.9 L973.7 163.3 L974.5 158.8 L975.4 151.5 L976.3 150.7 L977.3 149.1 L978.1 146.4 L978.9 142.0 L979.8 140.7 L980.8 140.8 L981.8 150.2 L982.7 159.8 L983.5 155.4 L984.4 153.8 L985.6 142.0 L986.4 140.2 L987.2 137.3 L988.6 159.8 L989.5 164.1 L990.3 166.9 L991.1 164.9 L992.0 165.7 L993.4 172.8 L994.2 169.2 L995.0 165.7 L996.2 166.2 L997.4 165.7 L998.3 158.4 L999.3 153.8 L1000.1 151.9 L1001.0 152.7 L1001.8 144.8 L1002.6 138.4 L1003.8 135.6 L1004.8 141.3 L1005.7 147.9 L1006.5 156.3 L1007.4 166.9 L1008.3 166.3 L1009.3 165.7 L1010.5 153.8 L1011.3 150.4 L1012.1 146.7 L1013.5 153.8 L1014.4 152.5 L1015.2 150.3 L1016.0 150.2 L1016.8 149.1 L1017.5 152.6 L1018.3 153.8 L1019.1 154.7 L1019.9 153.8 L1021.1 160.9 L1022.0 161.1 L1022.8 163.3 L1023.8 164.7 L1024.7 166.9 L1025.5 167.3 L1026.3 169.2 L1027.2 173.7 L1028.2 179.9 L1029.1 177.5 L1029.9 175.2 L1030.8 177.0 L1031.8 178.7 L1032.9 175.5 L1034.1 171.6 L1035.3 174.6 L1036.5 179.9 L1037.5 181.3 L1038.4 184.6 L1039.2 186.4 L1040.1 188.2 L1041.3 157.4 L1042.4 119.5 L1043.6 120.7 L1044.8 140.8 L1046.0 156.2 L1047.2 152.7 L1048.4 153.8 L1049.2 163.2 L1050.0 172.8 L1051.4 166.9 L1052.4 176.4 L1053.6 199.6 L1054.8 147.9 L1055.8 124.3 L1056.9 101.1 L1058.1 96.6 L1058.8 95.4 L1059.6 94.3 L1060.7 96.6 L1061.4 113.2 L1062.6 120.0 L1063.3 119.8 L1064.1 120.7 L1065.3 123.0 L1066.0 125.4 L1066.8 126.8 L1067.6 124.0 L1068.4 120.7 L1069.4 123.7 L1070.2 131.3 L1071.0 136.1 L1071.7 141.1 L1072.5 137.9 L1073.2 135.8 L1074.4 128.3 L1075.4 121.5 L1076.2 131.3 L1077.4 125.2 L1078.5 115.4 L1079.5 112.4 L1080.7 113.9 L1081.9 106.4 L1083.0 104.9 L1083.7 110.2 L1084.9 109.4 L1086.0 111.7 L1087.1 113.2 L1088.3 119.2 L1089.0 118.3 L1089.8 117.7 L1090.5 113.0 L1091.3 112.4 L1092.0 109.0 L1092.8 107.1 L1093.5 105.6 L1094.3 104.1 L1095.5 103.8 L1096.6 107.1 L1097.6 114.7 L1098.8 115.4 L1099.8 114.3 L1100.8 115.5 L1101.8 115.4" fill="none" stroke="#87b2dc" stroke-width="3.6" stroke-linejoin="round" stroke-linecap="butt"/>
<g text-anchor="middle" style="letter-spacing:1px;font-size:19.5px">
<text x="53.5" y="437.6">8pm</text>
<text x="252.5" y="437.6">12am</text>
<text x="452" y="437.6">4am</text>
<text x="651" y="437.6">8am</text>
<text x="850.5" y="437.6">12pm</text>
<text x="1049.3" y="437.6">4pm</text>
</g>
<g style="letter-spacing:0.5px;font-size:19.5px">
<text x="1108.5" y="111.7">108.50</text>
<text x="1108.5" y="212.7">108.25</text>
<text x="1108.5" y="312.7">108.00</text>
<text x="1108.5" y="412.2">107.75</text>
</g>
</svg>
<div class="topline"></div>
<div class="gap" style="left:53px;width:5px"></div><div class="gap" style="left:285px;width:6px"></div><div class="gap" style="left:409px;width:5px"></div>
<div class="btn back"><svg width="38" height="55" viewBox="0 0 38 55"><path d="M23.6 21.8 L16.2 29.2 L23.6 36.6" fill="none" stroke="#fff" stroke-width="2.6"/></svg></div>
<div class="btn adv">Advanced Charting</div>
<div class="btn oned"><span>1D</span><svg width="118" height="55" viewBox="0 0 118 55" style="position:absolute;left:0;top:0"><path d="M79.5 24 L99.5 24 L89.5 37 Z" fill="#fff"/></svg></div>
<div class="btn dol"><b>$</b></div>
<div class="btn pct"><b>%</b></div>
</body></html>
